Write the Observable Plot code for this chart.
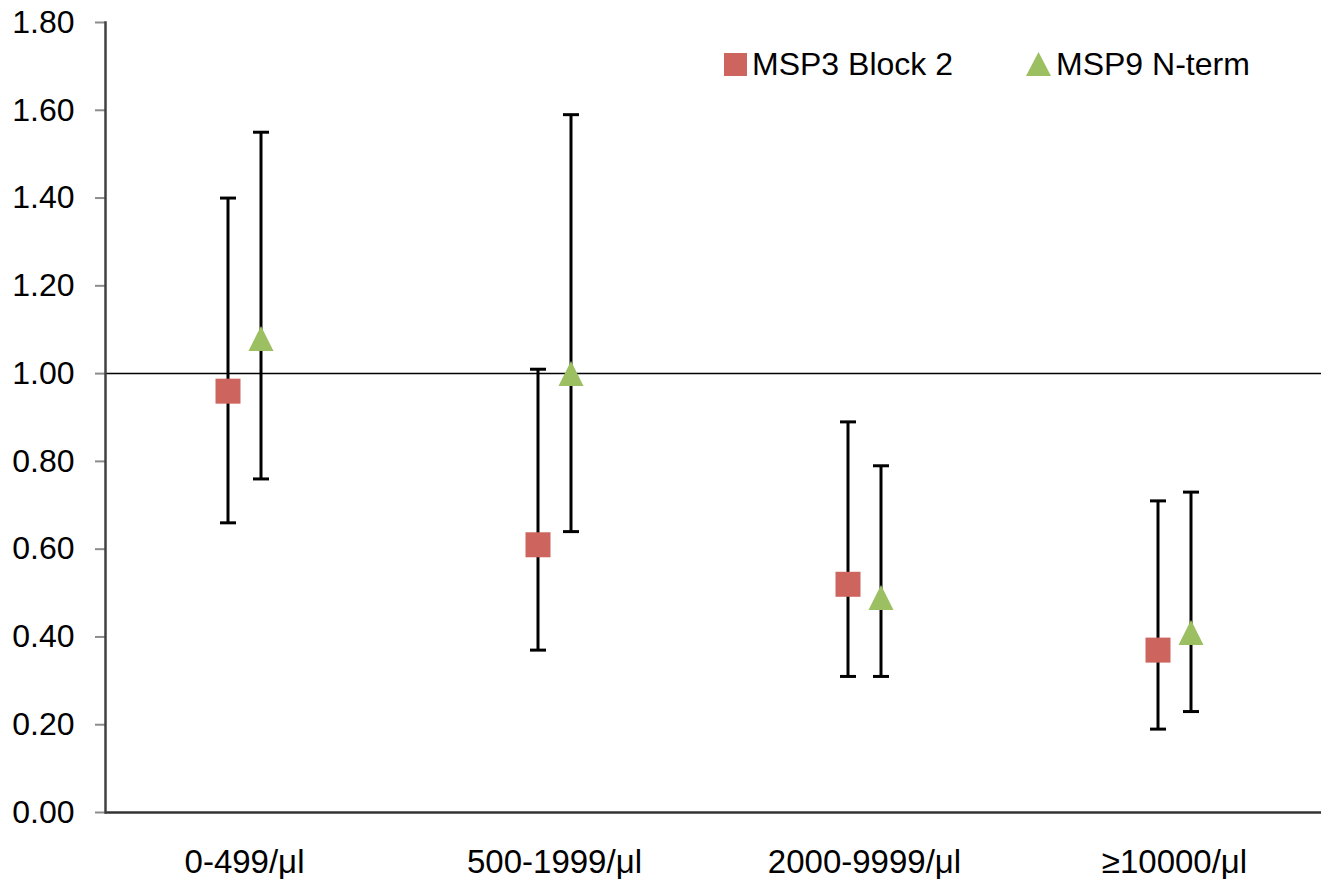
<!DOCTYPE html>
<html><head><meta charset="utf-8">
<script src="https://cdn.jsdelivr.net/npm/d3@7"></script>
<script src="https://cdn.jsdelivr.net/npm/@observablehq/plot@0.6"></script>
<style>
body{margin:0;background:#fff;font-family:"Liberation Sans",Arial,sans-serif;}
#wrap{position:relative;width:1321px;height:880px;}
.leg{position:absolute;top:46px;height:36px;display:flex;align-items:center;font-size:32px;color:#000;white-space:nowrap;}
.leg svg{margin-right:5px;}
</style></head><body><div id="wrap"></div>
<script>
const categories = ["0-499/\u03bcl", "500-1999/\u03bcl", "2000-9999/\u03bcl", "\u226510000/\u03bcl"];
const seriesNames = ["MSP3 Block 2", "MSP9 N-term"];
const msp3 = [0.96, 0.61, 0.52, 0.37];
const msp3Lo = [0.66, 0.37, 0.31, 0.19];
const msp3Hi = [1.40, 1.01, 0.89, 0.71];
const msp9 = [1.08, 1.00, 0.49, 0.41];
const msp9Lo = [0.76, 0.64, 0.31, 0.23];
const msp9Hi = [1.55, 1.59, 0.79, 0.73];
const yTicks = [0, 0.2, 0.4, 0.6, 0.8, 1.0, 1.2, 1.4, 1.6, 1.8];
const colors = ["#cd645e", "#9cbf62"];

const rows3 = categories.map((c, i) => ({cat: c, v: msp3[i], lo: msp3Lo[i], hi: msp3Hi[i]}));
const rows9 = categories.map((c, i) => ({cat: c, v: msp9[i], lo: msp9Lo[i], hi: msp9Hi[i]}));

const capSymbol = {draw(ctx, size) { const r = Math.sqrt(size / Math.PI); ctx.moveTo(-r, 0); ctx.lineTo(r, 0); }};
const triSymbol = {draw(ctx, size) { const r = Math.sqrt(size / Math.PI); ctx.moveTo(0, -r); ctx.lineTo(r, r); ctx.lineTo(-r, r); ctx.closePath(); }};
const sqSymbol = {draw(ctx, size) { const r = Math.sqrt(size / Math.PI); ctx.rect(-r, -r, 2 * r, 2 * r); }};

const off = 16.5;
function errMarks(rows, dx) {
  return [
    Plot.ruleX(rows, {x: "cat", y1: "lo", y2: "hi", dx, stroke: "#000", strokeWidth: 3}),
    Plot.dot(rows, {x: "cat", y: "lo", dx, symbol: capSymbol, r: 8, fill: "none", stroke: "#000", strokeWidth: 3}),
    Plot.dot(rows, {x: "cat", y: "hi", dx, symbol: capSymbol, r: 8, fill: "none", stroke: "#000", strokeWidth: 3})
  ];
}

const chart = Plot.plot({
  width: 1321,
  height: 880,
  marginLeft: 105,
  marginRight: 0,
  marginTop: 22,
  marginBottom: 68,
  style: {fontFamily: "'Liberation Sans', Arial, sans-serif", fontSize: "32px", color: "#000", background: "#fff"},
  x: {type: "point", domain: categories, range: [244, 1174], padding: 0},
  y: {domain: [0, 1.8]},
  marks: [
    Plot.axisY({ticks: yTicks, tickFormat: d3.format(".2f"), tickSize: 10, tickPadding: 21, stroke: "#8c8c8c", strokeWidth: 2, fill: "#000", label: null, fontSize: 32}),
    Plot.axisX({tickSize: 0, tickPadding: 37, label: null, fill: "#000", fontSize: 33}),
    Plot.ruleY([1], {stroke: "#000", strokeWidth: 1.5}),
    Plot.ruleY([0], {stroke: "#333", strokeWidth: 2.5}),
    Plot.frame({anchor: "left", stroke: "#404040", strokeWidth: 2.5}),
    ...errMarks(rows3, -off),
    ...errMarks(rows9, off),
    Plot.dot(rows3, {x: "cat", y: "v", dx: -off, symbol: sqSymbol, r: 12.5, fill: colors[0], stroke: "none"}),
    Plot.dot(rows9, {x: "cat", y: "v", dx: off, symbol: triSymbol, r: 12.5, fill: colors[1], stroke: "none"})
  ]
});
const wrap = document.getElementById("wrap");
wrap.appendChild(chart);

function legendItem(name, color, shape, left) {
  const d = document.createElement("div");
  d.className = "leg";
  d.style.left = left + "px";
  const shapeSvg = shape === "square"
    ? `<svg width="23" height="23"><rect x="0" y="0" width="23" height="23" fill="${color}"/></svg>`
    : `<svg width="25" height="24"><path d="M12.5,0L25,24L0,24Z" fill="${color}"/></svg>`;
  d.innerHTML = shapeSvg + `<span>${name}</span>`;
  wrap.appendChild(d);
}
legendItem(seriesNames[0], colors[0], "square", 724);
legendItem(seriesNames[1], colors[1], "triangle", 1026);
</script>
</body></html>
